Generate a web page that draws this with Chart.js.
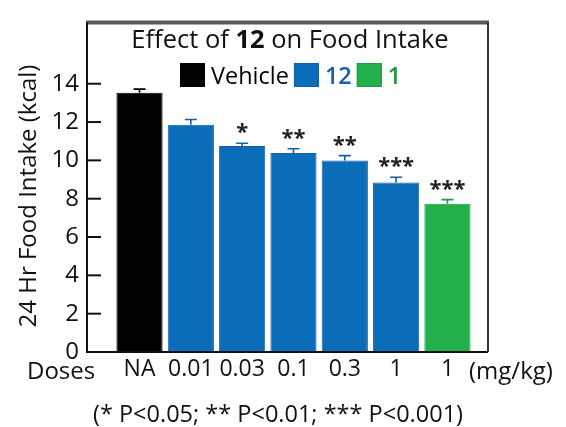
<!DOCTYPE html>
<html>
<head>
<meta charset="utf-8">
<script src="https://cdn.jsdelivr.net/npm/chart.js@4.4.1/dist/chart.umd.min.js"></script>
<style>
  html, body { margin: 0; padding: 0; background: #fff; }
</style>
</head>
<body>
<canvas id="myChart" width="566" height="427"></canvas>
<script>
// values
const doses = ['NA', '0.01', '0.03', '0.1', '0.3', '1', '1'];
const intake = [13.53, 11.86, 10.75, 10.39, 9.99, 8.84, 7.73];
const sem = [0.19, 0.27, 0.14, 0.22, 0.26, 0.28, 0.22];
const stars = ['', '', '*', '**', '**', '***', '***'];
const groupNames = ['Vehicle', '12', '1'];
const groupOfBar = [0, 1, 1, 1, 1, 1, 2];
const yTicks = [0, 2, 4, 6, 8, 10, 12, 14];

const fills = ['#000000', '#0b6cba', '#22b04b'];
const borders = ['#000000', '#1a5ea8', '#1f9c42'];
const textColors = ['#000000', '#1661ad', '#1b9a3e'];
const FONT = "'Open Sans', sans-serif";

const datasets = groupNames.map(function (name, g) {
    return {
        label: name,
        data: doses.map((d, i) => ({ x: i, y: intake[i] })).filter((p, i) => groupOfBar[i] === g),
        backgroundColor: fills[g],
        borderColor: borders[g],
        borderWidth: 1,
        barPercentage: 0.9,
        categoryPercentage: 1,
        grouped: false
    };
});

const decorations = {
    id: 'decorations',
    afterDatasetsDraw(chart) {
        const { ctx, scales: { x, y } } = chart;
        ctx.save();
        doses.forEach(function (d, i) {
            const cx = x.getPixelForValue(i);
            const top = y.getPixelForValue(intake[i]);
            const cap = y.getPixelForValue(intake[i] + sem[i]);
            ctx.strokeStyle = borders[groupOfBar[i]];
            ctx.lineWidth = 1.6;
            ctx.beginPath();
            ctx.moveTo(cx, top);
            ctx.lineTo(cx, cap);
            ctx.moveTo(cx - 6, cap);
            ctx.lineTo(cx + 6, cap);
            ctx.stroke();
            if (stars[i]) {
                ctx.fillStyle = '#222';
                ctx.font = 'bold 22px ' + FONT;
                ctx.textAlign = 'center';
                ctx.textBaseline = 'alphabetic';
                ctx.fillText(stars[i], cx, cap - 4);
            }
        });
        ctx.restore();
    },
    afterDraw(chart) {
        const { ctx, chartArea: ca, scales: { y } } = chart;
        ctx.save();

        // frame
        ctx.strokeStyle = '#5a5a5a';
        ctx.lineWidth = 4;
        ctx.beginPath();
        ctx.moveTo(ca.left - 1, ca.top);
        ctx.lineTo(ca.right + 1, ca.top);
        ctx.stroke();
        ctx.strokeStyle = '#111';
        ctx.lineWidth = 2;
        ctx.beginPath();
        ctx.moveTo(ca.left, ca.top);
        ctx.lineTo(ca.left, ca.bottom);
        ctx.lineTo(ca.right, ca.bottom);
        ctx.stroke();
        ctx.strokeStyle = '#333';
        ctx.beginPath();
        ctx.moveTo(ca.right, ca.top);
        ctx.lineTo(ca.right, ca.bottom);
        ctx.stroke();

        // inward ticks
        ctx.strokeStyle = '#111';
        yTicks.forEach(function (v) {
            const py = y.getPixelForValue(v);
            ctx.beginPath();
            ctx.moveTo(ca.left, py);
            ctx.lineTo(ca.left + 14, py);
            ctx.stroke();
        });

        // title with bold compound number
        ctx.textBaseline = 'alphabetic';
        ctx.textAlign = 'left';
        ctx.fillStyle = '#111';
        const parts = [['Effect of ', 'normal'], ['12', 'bold'], [' on Food Intake', 'normal']];
        let total = 0;
        parts.forEach(function (p) {
            ctx.font = p[1] + ' 25.5px ' + FONT;
            total += ctx.measureText(p[0]).width;
        });
        let tx = 290 - total / 2;
        parts.forEach(function (p) {
            ctx.font = p[1] + ' 25.5px ' + FONT;
            ctx.fillText(p[0], tx, 48);
            tx += ctx.measureText(p[0]).width;
        });

        // legend
        let lx = 180;
        groupNames.forEach(function (name, g) {
            ctx.fillStyle = fills[g];
            ctx.fillRect(lx, 63, 25, 24);
            ctx.strokeStyle = borders[g];
            ctx.lineWidth = 1;
            ctx.strokeRect(lx + 0.5, 63.5, 24, 23);
            lx += 31;
            ctx.font = (g === 0 ? 'normal' : '600') + ' 23.5px ' + FONT;
            ctx.fillStyle = textColors[g];
            ctx.fillText(name, lx, 84);
            lx += ctx.measureText(name).width + 5;
        });

        // axis texts
        ctx.fillStyle = '#111';
        ctx.font = '24px ' + FONT;
        ctx.fillText('Doses', 27, 379);
        ctx.fillText('(mg/kg)', 469, 379);
        ctx.textAlign = 'center';
        ctx.font = '23.5px ' + FONT;
        ctx.fillText('(* P<0.05; ** P<0.01; *** P<0.001)', 278, 422);

        ctx.translate(36, 196);
        ctx.rotate(-Math.PI / 2);
        ctx.font = '24px ' + FONT;
        ctx.fillText('24 Hr Food Intake (kcal)', 0, 0);
        ctx.restore();
    }
};

const ctx = document.getElementById('myChart');

new Chart(ctx, {
    type: 'bar',
    data: { datasets: datasets },
    plugins: [decorations],
    options: {
        responsive: false,
        animation: false,
        layout: { padding: { top: 16, right: 78, left: 0, bottom: 0 } },
        plugins: {
            legend: { display: false },
            tooltip: { enabled: false }
        },
        scales: {
            x: {
                type: 'linear',
                min: -1.023,
                max: 6.79,
                offset: false,
                afterBuildTicks: s => { s.ticks = doses.map((d, i) => ({ value: i })); },
                afterFit: s => { s.height = 75; },
                grid: { display: false, drawTicks: false },
                border: { display: false },
                ticks: {
                    autoSkip: false,
                    maxRotation: 0,
                    padding: 4,
                    color: '#111',
                    font: { family: FONT, size: 23 },
                    callback: v => doses[v]
                }
            },
            y: {
                min: 0,
                max: 17.2,
                afterBuildTicks: s => { s.ticks = yTicks.map(v => ({ value: v })); },
                afterFit: s => { s.width = 87; },
                grid: { display: false, drawTicks: false },
                border: { display: false },
                ticks: {
                    padding: 8,
                    color: '#111',
                    font: { family: FONT, size: 24 }
                }
            }
        }
    }
});
</script>
</body>
</html>
